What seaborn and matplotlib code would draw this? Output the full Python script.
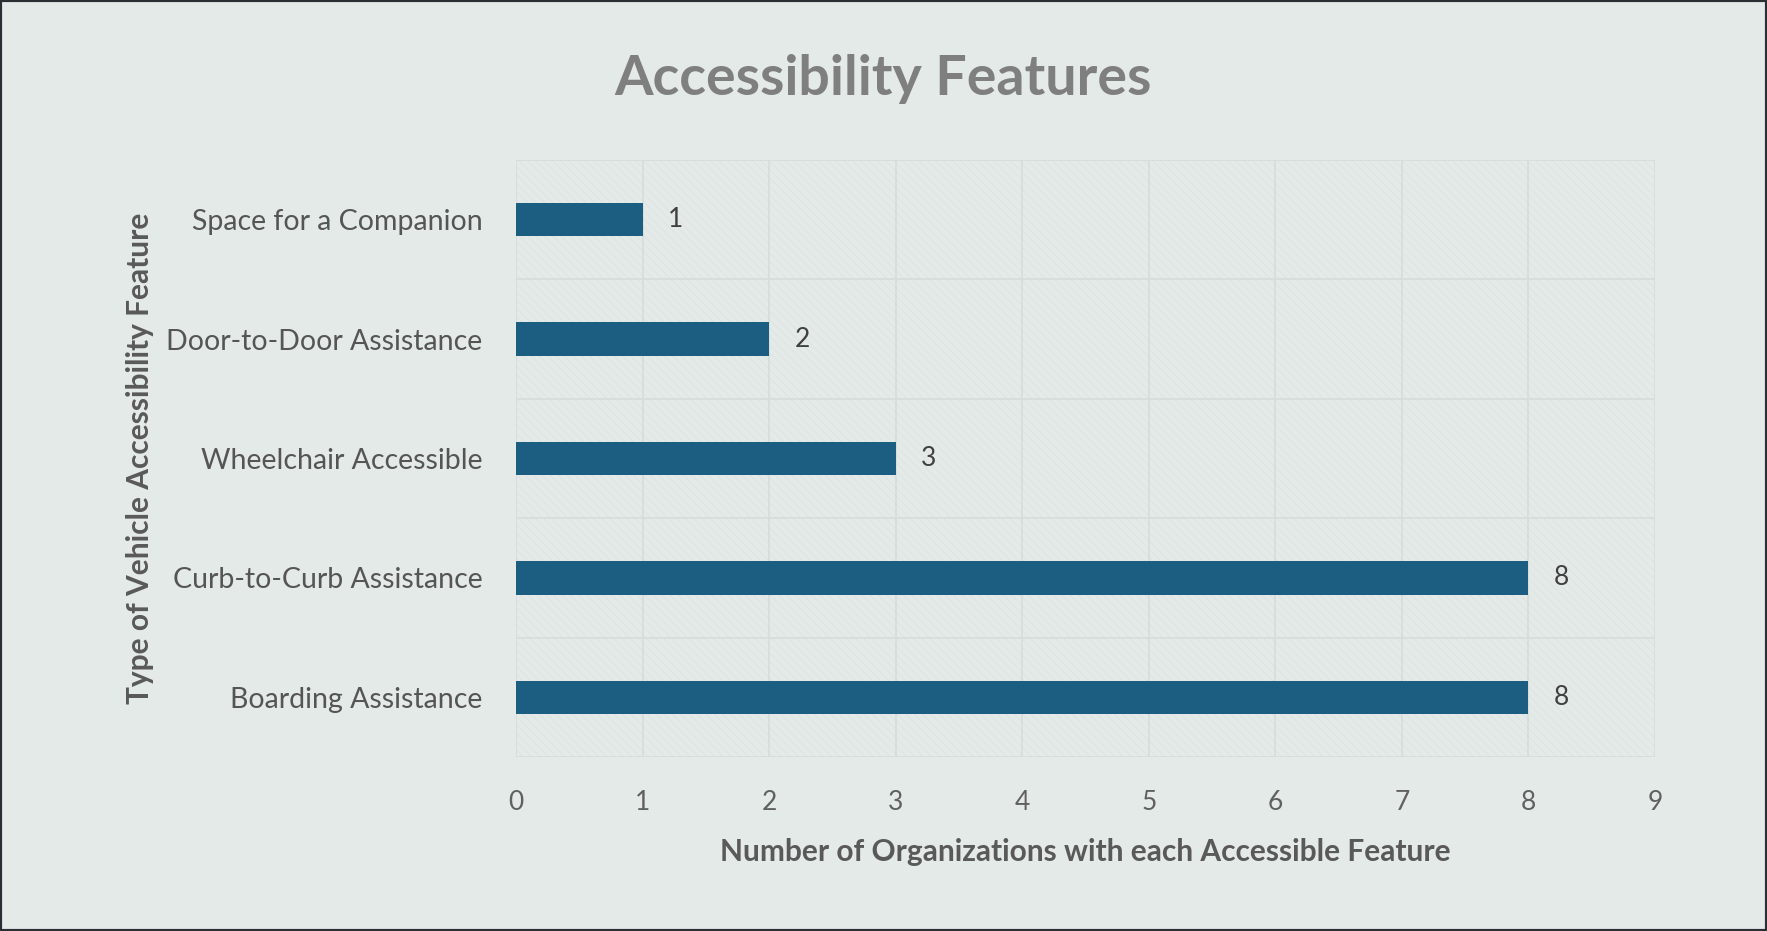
import matplotlib
matplotlib.use("Agg")
import matplotlib.pyplot as plt
import seaborn as sns
import pandas as pd
from matplotlib.patches import Rectangle

categories = ["Space for a Companion", "Door-to-Door Assistance", "Wheelchair Accessible",
              "Curb-to-Curb Assistance", "Boarding Assistance"]
values = [1, 2, 3, 8, 8]
xticks = [0, 1, 2, 3, 4, 5, 6, 7, 8, 9]

title = "Accessibility Features"
xlabel = "Number of Organizations with each Accessible Feature"
ylabel = "Type of Vehicle Accessibility Feature"

bg = "#E4EAE8"
bar_color = "#1B5E82"
text_color = "#595959"

sns.set_theme(style="white")
plt.rcParams["font.family"] = ["Lato", "DejaVu Sans"]
plt.rcParams["hatch.linewidth"] = 0.4

df = pd.DataFrame({"feature": categories, "count": values})

W, H = 1767, 931
fig = plt.figure(figsize=(W / 100, H / 100), dpi=100, facecolor=bg)
ax = fig.add_axes([516 / W, 1 - 757 / H, (1655 - 516) / W, (757 - 160) / H])
ax.set_facecolor(bg)

# hatched background of plot area
ax.add_patch(Rectangle((0, 0), 1, 1, transform=ax.transAxes, facecolor="none",
                       edgecolor="#DAE0DE", hatch="\\\\\\\\", linewidth=0, zorder=0))

sns.barplot(data=df, y="feature", x="count", orient="h", color=bar_color,
            width=0.28, saturation=1, ax=ax, zorder=3, edgecolor="none", linewidth=0)

ax.set_xlim(0, 9)
ax.set_xticks(xticks)
ax.set_xticklabels([str(t) for t in xticks])
ax.xaxis.grid(True, color="#D6DCDA", linewidth=1.2)
ax.set_axisbelow(True)
for i in range(len(categories) + 1):
    ax.axhline(i - 0.5, color="#D6DCDA", linewidth=1.2, zorder=1)
ax.set_ylim(len(categories) - 0.5, -0.5)

for s in ax.spines.values():
    s.set_visible(False)

ax.tick_params(axis="x", length=0, labelsize=19, labelcolor="#606060", pad=24)
ax.tick_params(axis="y", length=0, labelsize=20.5, labelcolor="#555555", pad=24)

for i, v in enumerate(values):
    ax.text(v + 0.2, i, str(v), va="center", ha="left", fontsize=19, color="#404040", zorder=4)

ax.set_xlabel(xlabel, fontsize=21.5, fontweight="bold", color=text_color, labelpad=16)
ax.set_ylabel(ylabel, fontsize=21.5, fontweight="bold", color=text_color, labelpad=9)

fig.text(883 / W, 1 - 79 / H, title, ha="center", va="center", fontsize=40,
         fontweight="bold", color="#7F7F7F")

# outer frame
fig.patches.append(Rectangle((0, 0), 1, 1, transform=fig.transFigure, fill=False,
                             edgecolor="#2B2F33", linewidth=3))

fig.savefig("out.png", dpi=100, facecolor=bg)
